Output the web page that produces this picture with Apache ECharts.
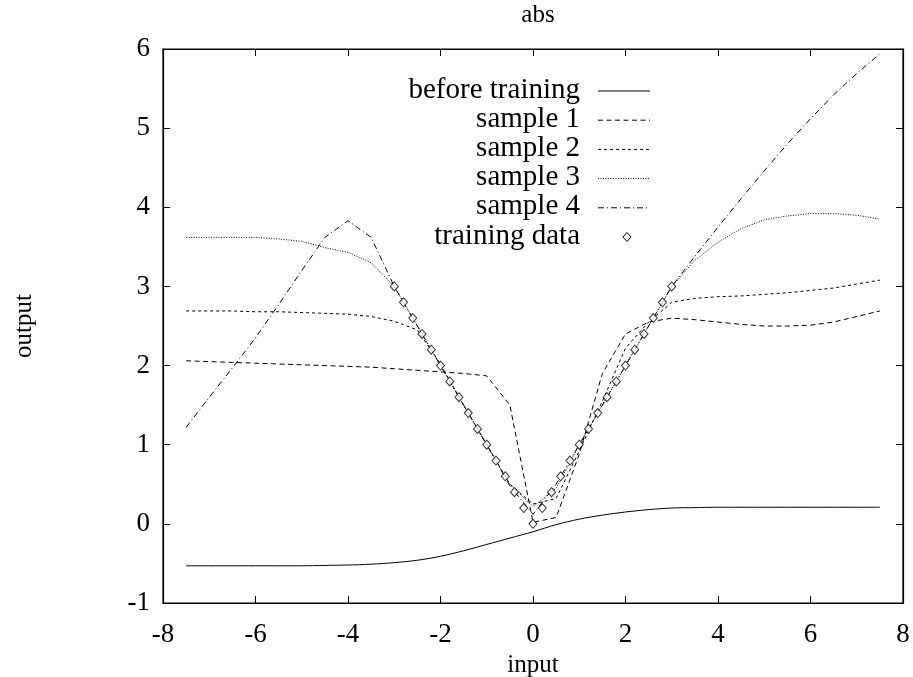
<!DOCTYPE html>
<html>
<head>
<meta charset="utf-8">
<script src="https://cdn.jsdelivr.net/npm/echarts@6/dist/echarts.min.js"></script>
<style>
  html, body { margin: 0; padding: 0; background: #fff; }
  #chart { width: 913px; height: 677px; }
</style>
</head>
<body>
<div id="chart"></div>
<script>
// Network response on the "abs" task: inputs sampled every 0.5
const xs = [-7.5, -7, -6.5, -6, -5.5, -5, -4.5, -4, -3.5, -3, -2.5, -2, -1.5, -1, -0.5,
            0, 0.5, 1, 1.5, 2, 2.5, 3, 3.5, 4, 4.5, 5, 5.5, 6, 6.5, 7, 7.5];

const beforeTraining = [-0.53, -0.53, -0.53, -0.53, -0.53, -0.53, -0.525, -0.52, -0.51, -0.49, -0.46, -0.41, -0.34, -0.26, -0.18,
                        -0.10, -0.01, 0.06, 0.11, 0.15, 0.18, 0.20, 0.205, 0.21, 0.21, 0.21, 0.21, 0.21, 0.21, 0.21, 0.21];
const sample1 = [2.06, 2.05, 2.04, 2.03, 2.02, 2.01, 2.00, 1.99, 1.98, 1.96, 1.94, 1.92, 1.90, 1.87, 1.50,
                 0.02, 0.08, 0.88, 1.90, 2.40, 2.55, 2.60, 2.58, 2.55, 2.52, 2.50, 2.50, 2.51, 2.55, 2.62, 2.69];
const sample2 = [2.69, 2.69, 2.69, 2.68, 2.68, 2.67, 2.66, 2.65, 2.62, 2.56, 2.45, 2.02, 1.50, 1.00, 0.50,
                 0.25, 0.32, 0.92, 1.55, 2.22, 2.55, 2.80, 2.85, 2.87, 2.88, 2.90, 2.92, 2.95, 2.98, 3.03, 3.08];
const sample3 = [3.62, 3.62, 3.62, 3.62, 3.60, 3.57, 3.49, 3.43, 3.30, 3.00, 2.50, 2.00, 1.50, 1.00, 0.50,
                 0.22, 0.45, 1.00, 1.50, 2.00, 2.50, 3.00, 3.33, 3.56, 3.73, 3.84, 3.89, 3.92, 3.92, 3.90, 3.85];
const sample4 = [1.22, 1.60, 1.97, 2.35, 2.77, 3.20, 3.62, 3.83, 3.62, 3.00, 2.50, 2.00, 1.50, 1.00, 0.48,
                 0.12, 0.50, 1.00, 1.50, 2.00, 2.50, 3.00, 3.38, 3.75, 4.11, 4.46, 4.80, 5.12, 5.42, 5.69, 5.94];

// Training targets
const trainX = [-3, -2.8, -2.6, -2.4, -2.2, -2, -1.8, -1.6, -1.4, -1.2, -1, -0.8, -0.6, -0.4, -0.2,
                0, 0.2, 0.4, 0.6, 0.8, 1, 1.2, 1.4, 1.6, 1.8, 2, 2.2, 2.4, 2.6, 2.8, 3];
const trainY = [3, 2.8, 2.6, 2.4, 2.2, 2, 1.8, 1.6, 1.4, 1.2, 1, 0.8, 0.6, 0.4, 0.2,
                0, 0.2, 0.4, 0.6, 0.8, 1, 1.2, 1.4, 1.6, 1.8, 2, 2.2, 2.4, 2.6, 2.8, 3];

const xTicks = [-8, -6, -4, -2, 0, 2, 4, 6, 8];
const yTicks = [-1, 0, 1, 2, 3, 4, 5, 6];

const curveNames = ['before training', 'sample 1', 'sample 2', 'sample 3', 'sample 4'];
const curveValues = [beforeTraining, sample1, sample2, sample3, sample4];
const curveDashes = ['solid', [5, 3.5], [3, 3], [1, 1.5], [6, 3, 1, 3]];

const FONT = '"Liberation Serif", "DejaVu Serif", serif';
const FS = 27;
const KEY_FS = 29;
const GRID = { left: 163, right: 10, top: 49, bottom: 74 };

const chart = echarts.init(document.getElementById('chart'), null, { renderer: 'canvas' });

const zip = (a, b) => a.map((v, i) => [v, b[i]]);

const lineSeries = curveNames.map((name, k) => ({
  name: name,
  type: 'line',
  data: zip(xs, curveValues[k]),
  showSymbol: false,
  symbol: 'none',
  smooth: k === 0 ? 0.3 : false,
  animation: false,
  lineStyle: { color: '#000', width: 1, type: curveDashes[k] },
  z: 3
}));

const scatterSeries = {
  name: 'training data',
  type: 'scatter',
  data: zip(trainX, trainY),
  symbol: 'diamond',
  symbolSize: [8, 9],
  animation: false,
  itemStyle: { color: '#fff', borderColor: '#000', borderWidth: 1 },
  z: 5
};

// Key in the upper middle: right-aligned names, style sample to the right
const keyRight = 580, keyTop = 90, keyStep = 29.2, sampleX0 = 598, sampleX1 = 650;
const keyNames = curveNames.concat(['training data']);
const keyGraphics = [];
keyNames.forEach((name, i) => {
  const y = keyTop + i * keyStep;
  keyGraphics.push({
    type: 'text', x: keyRight, y: y,
    style: { text: name, font: KEY_FS + 'px ' + FONT, fill: '#000', align: 'right', verticalAlign: 'middle' },
    z: 10
  });
  if (i < curveNames.length) {
    const d = curveDashes[i];
    keyGraphics.push({
      type: 'line',
      shape: { x1: sampleX0, y1: y + 1, x2: sampleX1, y2: y + 1 },
      style: { stroke: '#000', lineWidth: 1, lineDash: d === 'solid' ? null : d },
      z: 10
    });
  } else {
    const cx = (sampleX0 + sampleX1) / 2 + 3, cy = y + 1;
    keyGraphics.push({
      type: 'polygon',
      shape: { points: [[cx, cy - 4.5], [cx + 4, cy], [cx, cy + 4.5], [cx - 4, cy]] },
      style: { fill: '#fff', stroke: '#000', lineWidth: 1 },
      z: 10
    });
  }
});

const axisCommon = {
  axisLine: { show: true, onZero: false, lineStyle: { color: '#000', width: 1.2 } },
  axisTick: { show: true, inside: true, length: 7, lineStyle: { color: '#000', width: 1 } },
  splitLine: { show: false }
};

const option = {
  backgroundColor: '#fff',
  animation: false,
  title: {
    text: 'abs',
    left: GRID.left + (913 - GRID.left - GRID.right) / 2,
    textAlign: 'center',
    top: -2,
    textStyle: { fontFamily: FONT, fontWeight: 'normal', fontSize: 25, color: '#000' }
  },
  grid: Object.assign({
    show: true, borderColor: '#000', borderWidth: 1.2, backgroundColor: 'transparent',
    containLabel: false, outerBoundsMode: 'none'
  }, GRID),
  xAxis: [
    Object.assign({
      type: 'value', min: xTicks[0], max: xTicks[xTicks.length - 1], interval: 2,
      position: 'bottom',
      name: 'input', nameLocation: 'middle', nameGap: 47,
      nameTextStyle: { fontFamily: FONT, fontSize: 25, color: '#000' },
      axisLabel: { color: '#000', fontFamily: FONT, fontSize: FS, margin: 18 }
    }, axisCommon),
    Object.assign({
      type: 'value', min: xTicks[0], max: xTicks[xTicks.length - 1], interval: 2,
      position: 'top', axisLabel: { show: false }
    }, axisCommon)
  ],
  yAxis: [
    Object.assign({
      type: 'value', min: yTicks[0], max: yTicks[yTicks.length - 1], interval: 1,
      position: 'left',
      name: 'output', nameLocation: 'middle', nameGap: 126, nameRotate: 90,
      nameTextStyle: { fontFamily: FONT, fontSize: 25, color: '#000' },
      axisLabel: { color: '#000', fontFamily: FONT, fontSize: FS, margin: 13 }
    }, axisCommon),
    Object.assign({
      type: 'value', min: yTicks[0], max: yTicks[yTicks.length - 1], interval: 1,
      position: 'right', axisLabel: { show: false }
    }, axisCommon)
  ],
  graphic: keyGraphics,
  series: lineSeries.concat([scatterSeries])
};

chart.setOption(option);
</script>
</body>
</html>
